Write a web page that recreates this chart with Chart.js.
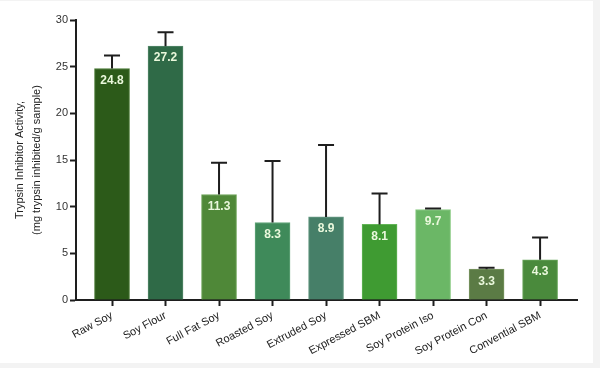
<!DOCTYPE html>
<html>
<head>
<meta charset="utf-8">
<script src="https://cdn.jsdelivr.net/npm/chart.js@4.4.1/dist/chart.umd.min.js"></script>
<style>
    html, body { margin: 0; padding: 0; background: #f3f3f3; }
    #wrap { width: 600px; height: 368px; }
</style>
</head>
<body>
<div id="wrap"><canvas id="chart" width="600" height="368"></canvas></div>
<script>
const categories = [
    "Raw Soy", "Soy Flour", "Full Fat Soy", "Roasted Soy", "Extruded Soy",
    "Expressed SBM", "Soy Protein Iso", "Soy Protein Con", "Convential SBM"
];
const activity = [24.8, 27.2, 11.3, 8.3, 8.9, 8.1, 9.7, 3.3, 4.3];
const errorUp = [1.4, 1.5, 3.4, 6.6, 7.7, 3.3, 0.1, 0.15, 2.4];
const barColors = [
    "#2c5a19", "#2f6a47", "#4f8838", "#3f8a5a", "#467f68",
    "#3f9b32", "#6bb766", "#5b7b45", "#4a8a3c"
];
const borderColors = [
    "#4a7a35", "#55886a", "#6fa55a", "#62a67a", "#6a9c86",
    "#62b456", "#8ccc86", "#7a9662", "#6aa65c"
];
const yTicks = [0, 5, 10, 15, 20, 25, 30];

// grey frame around the picture
const framePlugin = {
    id: 'frame',
    beforeDraw(chart) {
        const ctx = chart.ctx;
        ctx.save();
        ctx.fillStyle = '#f3f3f3';
        ctx.fillRect(0, 0, chart.width, chart.height);
        ctx.fillStyle = '#ffffff';
        ctx.fillRect(0, 1, 593, 362);
        ctx.restore();
    }
};

// error bars (upper only) and the value labels inside the bars
const barExtras = {
    id: 'barExtras',
    afterDatasetsDraw(chart) {
        const ctx = chart.ctx;
        const y = chart.scales.y;
        const meta = chart.getDatasetMeta(0);
        ctx.save();
        meta.data.forEach((bar, i) => {
            const top = y.getPixelForValue(activity[i]);
            const cap = y.getPixelForValue(activity[i] + errorUp[i]);
            ctx.strokeStyle = '#1e1e1e';
            ctx.lineWidth = 2;
            ctx.beginPath();
            ctx.moveTo(bar.x, top);
            ctx.lineTo(bar.x, cap);
            ctx.moveTo(bar.x - 8, cap);
            ctx.lineTo(bar.x + 8, cap);
            ctx.stroke();

            ctx.fillStyle = '#eaf8dc';
            ctx.font = 'bold 12px "Liberation Sans", Arial, sans-serif';
            ctx.textAlign = 'center';
            ctx.textBaseline = 'middle';
            ctx.fillText(activity[i].toFixed(1), bar.x, top + 12);
        });
        ctx.restore();
    }
};

new Chart(document.getElementById('chart'), {
    type: 'bar',
    data: {
        datasets: [{
            data: activity.map((v, i) => ({ x: i, y: v })),
            backgroundColor: barColors,
            borderColor: borderColors,
            borderWidth: 1,
            barThickness: 35
        }]
    },
    options: {
        responsive: false,
        animation: false,
        devicePixelRatio: 1,
        layout: { padding: { top: 20, right: 23, bottom: 8, left: 0 } },
        plugins: {
            legend: { display: false },
            tooltip: { enabled: false }
        },
        scales: {
            x: {
                type: 'linear',
                offset: false,
                min: -0.673,
                max: 8.69,
                afterBuildTicks: scale => {
                    scale.ticks = categories.map((_, i) => ({ value: i }));
                },
                afterFit: scale => { scale.height = 60; },
                grid: {
                    offset: false,
                    drawOnChartArea: false,
                    drawTicks: true,
                    tickLength: 6,
                    tickWidth: 2,
                    color: '#1e1e1e'
                },
                border: { display: true, color: '#1e1e1e', width: 2 },
                ticks: {
                    autoSkip: false,
                    maxRotation: 28,
                    minRotation: 28,
                    padding: 3,
                    color: '#222',
                    font: { size: 11, family: '"Liberation Sans", Arial, sans-serif' },
                    callback: value => categories[value]
                }
            },
            y: {
                min: 0,
                max: 30,
                afterBuildTicks: scale => {
                    scale.ticks = yTicks.map(v => ({ value: v }));
                },
                afterFit: scale => { scale.width = 76; },
                grid: {
                    drawOnChartArea: false,
                    drawTicks: true,
                    tickLength: 6,
                    tickWidth: 2,
                    color: '#1e1e1e'
                },
                border: { display: true, color: '#1e1e1e', width: 2 },
                ticks: {
                    padding: 2,
                    color: '#333',
                    font: { size: 11, family: '"Liberation Sans", Arial, sans-serif' }
                },
                title: {
                    display: true,
                    text: ['Trypsin Inhibitor Activity,', '(mg trypsin inhibited/g sample)'],
                    color: '#222',
                    font: { size: 11, family: '"Liberation Sans", Arial, sans-serif', lineHeight: 1.5 },
                    padding: { top: 12, bottom: 0 }
                }
            }
        }
    },
    plugins: [framePlugin, barExtras]
});
</script>
</body>
</html>
